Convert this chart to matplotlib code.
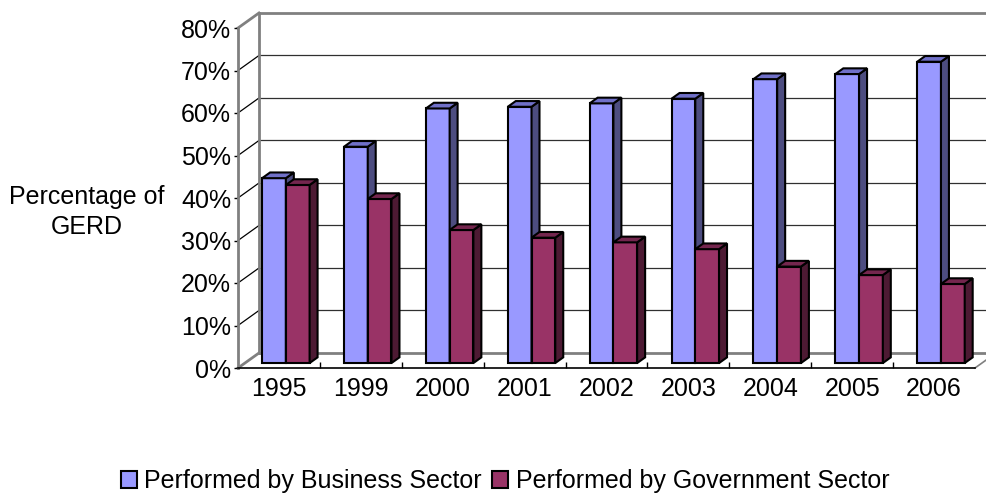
import matplotlib

matplotlib.use("Agg")
import matplotlib.pyplot as plt
from matplotlib.patches import Patch, Polygon

plt.rcParams["font.family"] = ["Liberation Sans", "DejaVu Sans"]

years = ["1995", "1999", "2000", "2001", "2002", "2003", "2004", "2005", "2006"]
business = [43.5, 50.9, 59.9, 60.3, 61.1, 62.2, 66.8, 68.0, 70.9]
government = [41.9, 38.6, 31.3, 29.5, 28.4, 26.8, 22.7, 20.7, 18.6]
series_names = ["Performed by Business Sector", "Performed by Government Sector"]
y_ticks = [0, 10, 20, 30, 40, 50, 60, 70, 80]

# face / side / top colours for the fake 3D look
face = ["#9999FF", "#993366"]
side = ["#4D4D80", "#4D1A33"]
top = ["#7070C8", "#74264E"]

# depth of the whole box, in data units (about 21 px x 15 px)
DX, DY = 0.256, 3.53
F0, FD = 0.33, 0.38  # bar front plane, bar thickness (fraction of depth)
W = 0.29
FS = 18

fig = plt.figure(figsize=(9.86, 4.93), dpi=100)
ax = fig.add_axes([238 / 986, 1 - 368 / 493, 737 / 986, 340 / 493])
ax.set_xlim(0, len(years))
ax.set_ylim(0, 80)

# walls: back grid, side diagonals, floor
grey = "#808080"
n = len(years)
for t in y_ticks:
    edge = t in (0, 80)
    c, lw = (grey, 2) if edge else ("#303030", 0.9)
    ax.plot([DX, n + DX + 0.3], [t + DY, t + DY], color=c, lw=lw, clip_on=False, zorder=1)
    ax.plot([0, DX], [t, t + DY], color=c if edge else "black", lw=lw, clip_on=False, zorder=1)
ax.plot([DX, DX], [DY, 80 + DY], color=grey, lw=2, clip_on=False, zorder=1)
ax.plot([n, n + DX], [0, DY], color=grey, lw=1.2, clip_on=False, zorder=1)

sx, sy = F0 * DX, F0 * DY
ddx, ddy = FD * DX, FD * DY
z = 3
for i in range(n):
    for k, vals in enumerate([business, government]):
        v = vals[i]
        xl = i + 0.5 - W + k * W + sx
        xr = xl + W
        b = ax.bar(xl, v, width=W, bottom=sy, align="edge", color=face[k],
                   edgecolor="black", linewidth=1.5)
        b.patches[0].set_zorder(z)
        side_poly = Polygon([(xr, sy), (xr + ddx, sy + ddy), (xr + ddx, sy + v + ddy), (xr, sy + v)],
                            closed=True, facecolor=side[k], edgecolor="black", lw=1.5, zorder=z)
        top_poly = Polygon([(xl, sy + v), (xl + ddx, sy + v + ddy), (xr + ddx, sy + v + ddy), (xr, sy + v)],
                           closed=True, facecolor=top[k], edgecolor="black", lw=1.5, zorder=z)
        ax.add_patch(side_poly)
        ax.add_patch(top_poly)
        z += 1

ax.set_yticks(y_ticks)
ax.set_yticklabels([f"{t}%" for t in y_ticks], fontsize=FS)
ax.set_xticks([i + 0.5 for i in range(n)])
ax.set_xticklabels(years, fontsize=FS)
ax.set_xticks(range(1, n), minor=True)
ax.tick_params(axis="x", which="major", length=0, pad=6.5)
ax.tick_params(axis="x", which="minor", direction="in", length=4.5, width=1)
ax.tick_params(axis="y", direction="out", length=3, width=1, pad=2)

for s in ("top", "right"):
    ax.spines[s].set_visible(False)
ax.spines["left"].set_color(grey)
ax.spines["left"].set_linewidth(2)
ax.spines["bottom"].set_color("black")
ax.spines["bottom"].set_linewidth(1.2)
ax.patch.set_visible(False)

fig.text(87 / 986, 1 - 212 / 493, "Percentage of\nGERD", ha="center", va="center",
         fontsize=FS, linespacing=1.3)

handles = [Patch(facecolor=face[k], edgecolor="black", linewidth=1.5) for k in range(2)]
fig.legend(handles, series_names, loc="center", bbox_to_anchor=(505 / 986, 1 - 481 / 493),
           ncol=2, frameon=False, fontsize=FS, handlelength=0.65, handleheight=0.65,
           handletextpad=0.3, columnspacing=0.4, borderpad=0)

fig.savefig("out.png", dpi=100)
